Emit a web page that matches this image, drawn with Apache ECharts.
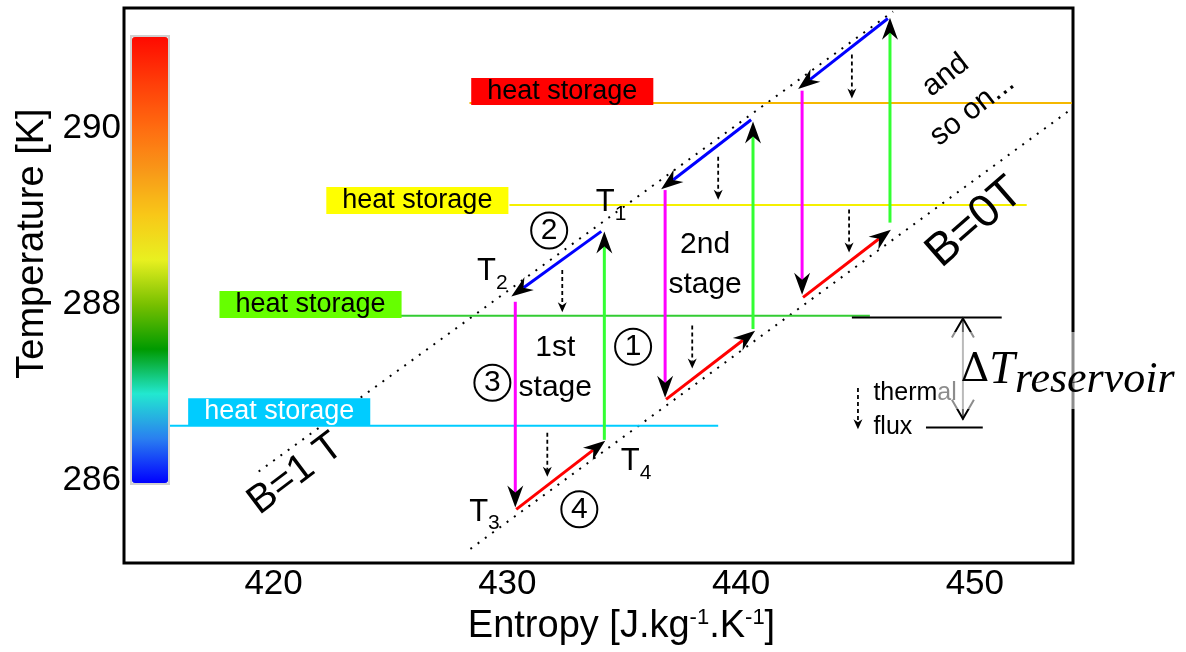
<!DOCTYPE html>
<html>
<head>
<meta charset="utf-8">
<style>
  html, body { margin: 0; padding: 0; background: #fff; }
  #chart { width: 1186px; height: 652px; }
</style>
<script src="https://cdn.jsdelivr.net/npm/echarts@6.0.0/dist/echarts.min.js"></script>
</head>
<body>
<div id="chart"></div>
<script>
// axis ticks
const xTicks = [420, 430, 440, 450];
const yTicks = [286, 288, 290];

// isofield lines (entropy, temperature)
const lineB1T = [[419.36, 286.10], [446.50, 291.33]];
const lineB0T = [[428.42, 285.22], [453.97, 290.19]];

// heat storage levels
const storageT = [290.29, 289.13, 287.87, 286.62];
const storageFrom = [428.38, 430.09, 418.25, 415.51];
const storageTo = [454.15, 452.22, 445.51, 439.02];
const storageLabelS = [432.35, 426.15, 421.58, 420.24];
const storageLabelT = [290.42, 289.18, 288.00, 286.78];

// cycle legs: [s start, T start, s end, T end], one row per stage
const magnetize = [[434.15, 286.46, 434.15, 288.83], [440.51, 287.72, 440.51, 290.08], [446.37, 288.93, 446.37, 291.26]];
const rejectHeat = [[434.02, 288.83, 430.17, 288.09], [440.43, 290.10, 436.58, 289.31], [446.28, 291.25, 442.44, 290.45]];
const demagnetize = [[430.34, 288.03, 430.34, 285.69], [436.75, 289.30, 436.75, 286.94], [442.61, 290.43, 442.61, 288.11]];
const absorbHeat = [[430.38, 285.67, 434.19, 286.45], [436.79, 286.92, 440.60, 287.70], [442.65, 288.08, 446.41, 288.85]];

// thermal flux arrows (last one is the key)
const fluxArrows = [
  [432.35, 288.39, 432.35, 287.91],
  [431.71, 286.54, 431.71, 286.04],
  [437.91, 287.76, 437.91, 287.27],
  [439.02, 289.68, 439.02, 289.19],
  [444.62, 289.08, 444.62, 288.59],
  [444.74, 290.84, 444.74, 290.34],
  [445.00, 287.05, 445.00, 286.58]
];

// delta T reservoir marks
const reservoirTop = [[444.74, 287.85], [451.15, 287.85]];
const reservoirBottom = [[447.91, 286.60], [450.34, 286.60]];
const reservoirArrow = [[449.49, 287.85, 449.49, 286.69]];
const reservoirLabelAt = [448.38, 287.25];

// text annotations
const stageLabels = ['1st\nstage', '2nd\nstage'];
const stageS = [432.05, 438.46];
const stageT = [287.28, 288.45];

const stepNumbers = ['1', '2', '3', '4'];
const stepS = [435.38, 431.79, 429.36, 433.08];
const stepT = [287.52, 288.84, 287.11, 285.67];

const stateNumbers = ['1', '2', '3', '4'];
const stateS = [434.44, 429.36, 429.02, 435.51];
const stateT = [289.16, 288.37, 285.64, 286.21];

const fieldLabels = ['B=1 T', 'B=0T', 'and\nso on...'];
const fieldS = [420.94, 450.00, 449.32];
const fieldT = [286.07, 288.93, 290.41];
const fieldRotate = [37, 41, 38];
const fieldSize = [40, 46, 30];

const fluxKeyAt = [445.64, 286.80];

const FONT = '"Liberation Sans", Arial, sans-serif';
const storageBox = ['#ff0000', '#ffff00', '#66ff00', '#00ccff'];
const storageLine = ['#f5b800', '#f5f000', '#33cc33', '#00ccff'];

// arrow: coloured shaft + black barbed head
function arrowRender(color, width, head, dash) {
  return function (params, api) {
    const a = api.coord([api.value(0), api.value(1)]);
    const b = api.coord([api.value(2), api.value(3)]);
    const ang = Math.atan2(b[1] - a[1], b[0] - a[0]);
    const c = Math.cos(ang), s = Math.sin(ang);
    const p = (u, v) => [b[0] + u * c - v * s, b[1] + u * s + v * c];
    const neck = p(-head.n, 0);
    return {
      type: 'group',
      children: [
        { type: 'line', shape: { x1: a[0], y1: a[1], x2: neck[0], y2: neck[1] },
          style: { stroke: color, lineWidth: width, lineDash: dash || null } },
        { type: 'polygon', shape: { points: [p(0, 0), p(-head.l, head.w), neck, p(-head.l, -head.w)] },
          style: { fill: '#000' } }
      ]
    };
  };
}

function doubleArrowRender(params, api) {
  const a = api.coord([api.value(0), api.value(1)]);
  const b = api.coord([api.value(2), api.value(3)]);
  return {
    type: 'group',
    children: [
      { type: 'line', shape: { x1: a[0], y1: a[1], x2: b[0], y2: b[1] }, style: { stroke: '#666', lineWidth: 2 } },
      { type: 'polyline', shape: { points: [[a[0] - 11, a[1] + 20], [a[0], a[1] + 1], [a[0] + 11, a[1] + 20]] },
        style: { stroke: '#000', lineWidth: 2, fill: null } },
      { type: 'polyline', shape: { points: [[b[0] - 11, b[1] - 20], [b[0], b[1] - 1], [b[0] + 11, b[1] - 20]] },
        style: { stroke: '#000', lineWidth: 2, fill: null } }
    ]
  };
}

const headBig = { l: 22, w: 8, n: 15 };
const headSmall = { l: 10, w: 4.5, n: 7 };

function legSeries(data, color) {
  return {
    type: 'custom',
    renderItem: arrowRender(color, 3, headBig),
    data: data,
    encode: { x: [0, 2], y: [1, 3] },
    clip: false,
    silent: true,
    z: 3
  };
}

function plainLine(points, color, width, type) {
  return {
    type: 'line',
    data: points,
    symbol: 'none',
    silent: true,
    lineStyle: { color: color, width: width, type: type || 'solid' },
    z: 2
  };
}

// invisible points that only carry labels
const hidden = { color: 'rgba(0,0,0,0)', opacity: 1 };

const series = [];
series.push(plainLine(lineB1T, '#000', 2, [2, 7]));
series.push(plainLine(lineB0T, '#000', 2, [2, 7]));
storageT.forEach((t, i) => {
  series.push(plainLine([[storageFrom[i], t], [storageTo[i], t]], storageLine[i], 2));
});
series.push(plainLine(reservoirTop, '#000', 2));
series.push(plainLine(reservoirBottom, '#000', 2));

// heat storage boxes
series.push({
  type: 'scatter',
  symbolSize: 1,
  itemStyle: hidden,
  silent: true,
  z: 4,
  data: storageLabelS.map((s, i) => ({
    value: [s, storageLabelT[i]],
    label: {
      show: true,
      position: 'inside',
      formatter: 'heat storage',
      fontFamily: FONT,
      fontSize: 27,
      color: i === 3 ? '#fff' : '#000',
      textBorderWidth: 0,
      backgroundColor: storageBox[i],
      padding: [0, 16, 0, 16],
      lineHeight: 27
    }
  }))
});

series.push(legSeries(magnetize, '#33ff33'));
series.push(legSeries(rejectHeat, '#0000ff'));
series.push(legSeries(demagnetize, '#ff00ff'));
series.push(legSeries(absorbHeat, '#ff0000'));

series.push({
  type: 'custom',
  renderItem: arrowRender('#000', 1.8, headSmall, [4, 3]),
  data: fluxArrows,
  encode: { x: [0, 2], y: [1, 3] },
  clip: false,
  silent: true,
  z: 3
});

series.push({
  type: 'custom',
  renderItem: doubleArrowRender,
  data: reservoirArrow,
  encode: { x: [0, 2], y: [1, 3] },
  clip: false,
  silent: true,
  z: 3
});

// annotations
const annotations = [];
stageLabels.forEach((txt, i) => {
  annotations.push({
    value: [stageS[i], stageT[i]],
    label: { formatter: txt, fontSize: 30, lineHeight: 40, align: 'center' }
  });
});
stepNumbers.forEach((n, i) => {
  annotations.push({
    value: [stepS[i], stepT[i]],
    label: {
      formatter: n, fontSize: 30, width: 36, height: 36, lineHeight: 36, align: 'center',
      verticalAlign: 'middle', borderColor: '#000', borderWidth: 2, borderRadius: 20
    }
  });
});
stateNumbers.forEach((n, i) => {
  annotations.push({
    value: [stateS[i], stateT[i]],
    label: {
      formatter: '{t|T}{s|' + n + '}',
      rich: {
        t: { fontFamily: FONT, fontSize: 31, lineHeight: 44, color: '#000' },
        s: { fontFamily: FONT, fontSize: 21, lineHeight: 21, verticalAlign: 'bottom', color: '#000' }
      }
    }
  });
});
fieldLabels.forEach((txt, i) => {
  annotations.push({
    value: [fieldS[i], fieldT[i]],
    label: { formatter: txt, fontSize: fieldSize[i], lineHeight: fieldSize[i] * 1.45, rotate: fieldRotate[i], align: 'center' }
  });
});
annotations.push({
  value: fluxKeyAt,
  label: { formatter: 'thermal\nflux', position: 'right', distance: 0, fontSize: 25, lineHeight: 34, align: 'left' }
});

series.push({
  type: 'scatter',
  symbolSize: 1,
  itemStyle: hidden,
  silent: true,
  z: 5,
  label: { show: true, position: 'inside', color: '#000', textBorderWidth: 0, fontFamily: FONT },
  data: annotations
});

// delta T label with its translucent box
series.push({
  type: 'scatter',
  symbolSize: 1,
  itemStyle: hidden,
  silent: true,
  z: 10,
  data: [{
    value: reservoirLabelAt,
    label: {
      show: true,
      position: 'right',
      distance: 0,
      textBorderWidth: 0,
      backgroundColor: 'rgba(255,255,255,0.55)',
      padding: [7, 6, 6, 23],
      formatter: '{d|Δ}{t|T}{s|reservoir}',
      rich: {
        d: { fontFamily: '"DejaVu Serif", serif', fontSize: 40, lineHeight: 64, color: '#000' },
        t: { fontFamily: '"Liberation Serif", serif', fontStyle: 'italic', fontSize: 46, lineHeight: 64, color: '#000' },
        s: { fontFamily: '"Liberation Serif", serif', fontStyle: 'italic', fontSize: 44, lineHeight: 44, verticalAlign: 'bottom', color: '#000' }
      }
    }
  }]
});

// holder for the colour bar
series.push({ type: 'scatter', data: [], silent: true });

const chart = echarts.init(document.getElementById('chart'));
chart.setOption({
  animation: false,
  backgroundColor: '#fff',
  grid: {
    left: 124, right: 113, top: 8, bottom: 89,
    show: true, borderColor: '#000', borderWidth: 3, backgroundColor: 'transparent'
  },
  xAxis: {
    type: 'value',
    min: 413.6,
    max: 454.2,
    axisLine: { show: false },
    axisTick: { show: false },
    splitLine: { show: false },
    axisLabel: { customValues: xTicks, fontSize: 35, color: '#000', fontFamily: FONT, margin: 4 },
    name: '{n|Entropy [J.kg}{s|-1}{n|.K}{s|-1}{n|]}',
    nameLocation: 'middle',
    nameGap: 44,
    nameTextStyle: {
      padding: [0, 0, 0, 46],
      rich: {
        n: { fontSize: 38, lineHeight: 40, color: '#000', fontFamily: FONT },
        s: { fontSize: 22, lineHeight: 22, verticalAlign: 'top', color: '#000', fontFamily: FONT }
      }
    }
  },
  yAxis: {
    type: 'value',
    min: 285.06,
    max: 291.37,
    axisLine: { show: false },
    axisTick: { show: false },
    splitLine: { show: false },
    axisLabel: { customValues: yTicks, fontSize: 35, color: '#000', fontFamily: FONT, margin: 3 },
    name: 'Temperature [K]',
    nameLocation: 'middle',
    nameGap: 70,
    nameTextStyle: { fontSize: 38, color: '#000', fontFamily: FONT, padding: [0, 0, 0, 84] }
  },
  visualMap: {
    type: 'continuous',
    seriesIndex: series.length - 1,
    min: 286,
    max: 291,
    left: 130,
    top: 35,
    itemWidth: 36,
    itemHeight: 446,
    calculable: false,
    hoverLink: false,
    padding: 1,
    borderColor: '#d0d0d0',
    borderWidth: 2,
    inRange: {
      color: ['#0000ff', '#2a80f0', '#22e8d0', '#009a00', '#78c000', '#e8f020',
              '#f8c818', '#f89818', '#ff6a10', '#ff3c08', '#ff0a00']
    }
  },
  series: series
});
</script>
</body>
</html>
